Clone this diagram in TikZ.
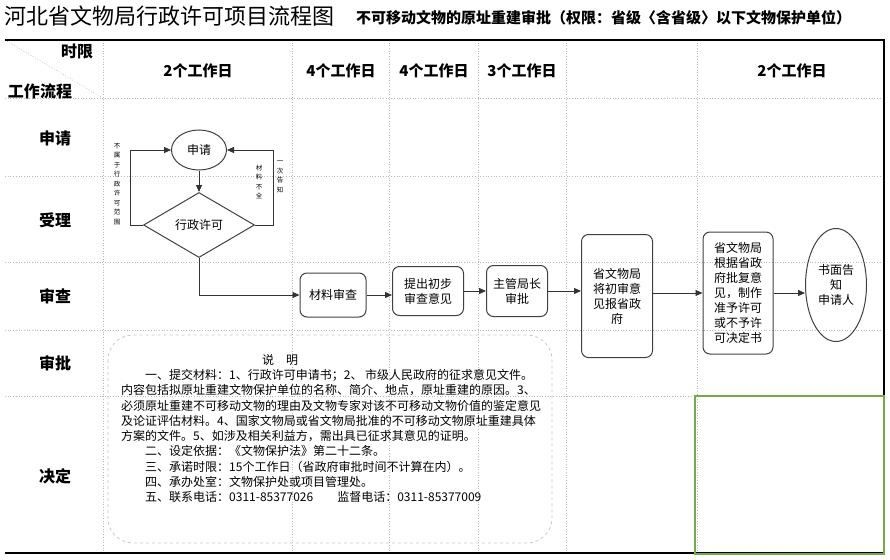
\documentclass[tikz,border=0pt]{standalone}
\usepackage{fontspec}
\setmainfont{Noto Sans CJK SC}
\usetikzlibrary{shapes.geometric,arrows.meta}
\definecolor{framegreen}{RGB}{112,173,71}

\begin{document}
\begin{tikzpicture}[x=1pt,y=-1pt,
    grid/.style={gray!55,dotted,line width=0.7pt},
    rowlabel/.style={font=\fontsize{16}{16}\selectfont\bfseries,inner sep=0pt},
    daylabel/.style={font=\fontsize{15}{15}\selectfont\bfseries,inner sep=0pt},
    box/.style={draw=black!75,line width=1pt,rounded corners=7pt,align=center,
        font=\fontsize{12}{15}\selectfont,inner sep=0pt},
    flow/.style={-{Triangle[length=7pt,width=6pt]},line width=0.9pt,black!80},
    sidenote/.style={align=center,font=\fontsize{6.5}{9.5}\selectfont,inner sep=0pt}]
        \useasboundingbox (0,0) rectangle (890,559);
        \node[anchor=west,inner sep=0pt,font=\fontsize{22}{22}\selectfont] (title) at (4,16)
            {河北省文物局行政许可项目流程图};
        \node[anchor=west,inner sep=0pt,font=\fontsize{15}{15}\selectfont\bfseries] (subtitle) at (356,18)
            {不可移动文物的原址重建审批（权限：省级〈含省级〉以下文物保护单位）};
        % table
        \foreach \y in {98,176,262,330,396}
            \draw[grid] (5,\y) -- (884,\y);
        \foreach \x in {103,292,389,478,566,697}
            \draw[grid] (\x,40) -- (\x,553);
        \draw[grid] (5,40) -- (103,98);
        \draw[line width=2pt] (5,40) -- (884,40) -- (884,553) -- (5,553);
        \draw[framegreen,line width=2.5pt] (695,396) rectangle (884,554);
        \node[rowlabel] (limit) at (77,52) {时限};
        \node[rowlabel] (process) at (40,91) {工作流程};
        \foreach \x/\d in {198/2,341/4,434/4,522/3,792/2}
            \node[daylabel] (day\x) at (\x,71) {\d 个工作日};
        \foreach \y/\t [count=\i] in {138/申请,220/受理,296/审查,363/审批,476/决定}
            \node[rowlabel] (row\i) at (55,\y) {\t};
        % flow
        \node[draw=black!75,line width=1pt,ellipse,minimum width=55pt,minimum height=40pt,
            inner sep=0pt,font=\fontsize{12}{15}\selectfont] (apply) at (199,150) {申请};
        \node[draw=black!75,line width=1pt,diamond,aspect=1.7,minimum width=111pt,minimum height=65pt,
            inner sep=0pt,font=\fontsize{12}{15}\selectfont] (permit) at (199,225) {行政许可};
        \draw[flow] (apply) -- (permit);
        \draw[flow] (permit.west) -- ++(-13,0) |- (apply.west);
        \draw[flow] (permit.east) -- ++(18,0) |- (apply.east);
        \node[sidenote] (outscope) at (117,184) {不\\属\\于\\行\\政\\许\\可\\范\\围};
        \node[sidenote] (lack) at (259,182) {材\\料\\不\\全};
        \node[sidenote] (notice) at (280,177) {一\\次\\告\\知};
        \node[box,minimum width=66pt,minimum height=44pt] (check) at (333,295) {材料审查};
        \node[box,minimum width=71pt,minimum height=49pt] (opinion) at (428,291) {提出初步\\审查意见};
        \node[box,minimum width=61pt,minimum height=51pt] (director) at (517,291) {主管局长\\审批};
        \node[box,minimum width=71pt,minimum height=123pt] (report) at (617,296)
            {省文物局\\将初审意\\见报省政\\府};
        \node[box,minimum width=70pt,minimum height=122pt] (decide) at (738,293)
            {省文物局\\根据省政\\府批复意\\见，制作\\准予许可\\或不予许\\可决定书};
        \node[draw=black!75,line width=1pt,ellipse,minimum width=61pt,minimum height=113pt,
            inner sep=0pt,align=center,font=\fontsize{12}{15}\selectfont] (notify) at (836,285)
            {书面告\\知\\申请人};
        \draw[flow] (permit.south) |- (check.west);
        \draw[flow] (check.east) -- (check.east -| opinion.west);
        \draw[flow] (director.west -| opinion.east) -- (director.west);
        \draw[flow] (director.east) -- (director.east -| report.west);
        \draw[flow] (decide.west -| report.east) -- (decide.west);
        \draw[flow] (decide.east) -- (decide.east -| notify.west);
        % notes
        \draw[gray!45,dashed,line width=0.8pt,rounded corners=25pt] (108,335) rectangle (552,543);
        \node[inner sep=0pt,font=\fontsize{12}{15}\selectfont] (notetitle) at (280,360) {说\hspace{1em}明};
        \node[anchor=north west,align=left,inner sep=0pt,font=\fontsize{12}{15.3}\selectfont] (notes) at (121,369)
            {\hspace*{2em}一、提交材料：1、行政许可申请书；2、 市级人民政府的征求意见文件。\\
            内容包括拟原址重建文物保护单位的名称、简介、地点，原址重建的原因。3、\\
            必须原址重建不可移动文物的理由及文物专家对该不可移动文物价值的鉴定意见\\
            及论证评估材料。4、国家文物局或省文物局批准的不可移动文物原址重建具体\\
            方案的文件。5、如涉及相关利益方，需出具已征求其意见的证明。\\
            \hspace*{2em}二、设定依据：《文物保护法》第二十二条。\\
            \hspace*{2em}三、承诺时限：15个工作日（省政府审批时间不计算在内）。\\
            \hspace*{2em}四、承办处室：文物保护处或项目管理处。\\
            \hspace*{2em}五、联系电话：0311-85377026\hspace{2em}监督电话：0311-85377009};
    \end{tikzpicture}
\end{document}
